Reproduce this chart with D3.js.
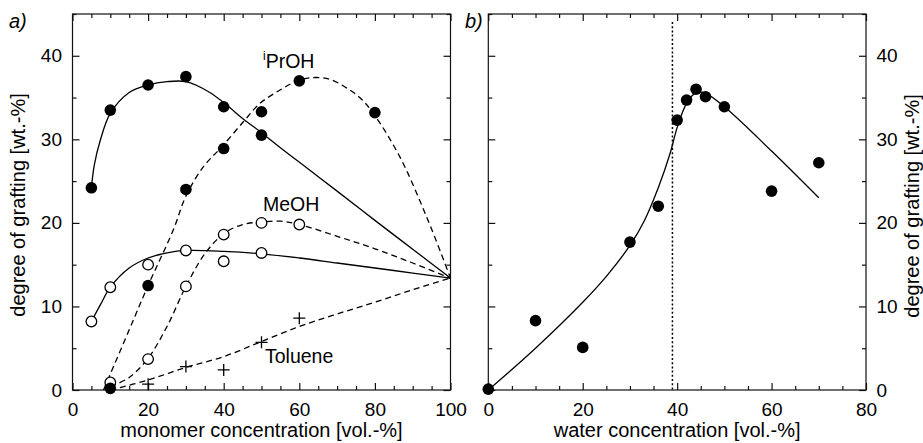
<!DOCTYPE html>
<html>
<head>
<meta charset="utf-8">
<script src="https://cdn.jsdelivr.net/npm/d3@7"></script>
<style>
  body { margin: 0; background: #fff; }
  svg { font-family: "Liberation Sans", Arial, Helvetica, sans-serif; }
  .axis text { font-size: 19px; fill: #000; }
  .axis line { stroke: #111; stroke-width: 1.2; }
  .axisLabel { font-size: 20px; fill: #000; text-anchor: middle; }
</style>
</head>
<body>
<div id="chart"></div>
<script>
// ---- panel a) measured points
const iprSolidX = [5, 10, 20, 30, 40, 50];
const iprSolidY = [24.2, 33.5, 36.5, 37.5, 33.9, 30.5];
const iprDashX = [10, 20, 30, 40, 50, 60, 80];
const iprDashY = [0.2, 12.5, 24, 28.9, 33.3, 37, 33.2];
const meohSolidX = [5, 10, 20, 30, 40, 50];
const meohSolidY = [8.2, 12.3, 15, 16.7, 15.4, 16.4];
const meohDashX = [10, 20, 30, 40, 50, 60];
const meohDashY = [0.9, 3.7, 12.4, 18.6, 20, 19.8];
const tolX = [20, 30, 40, 50, 60];
const tolY = [0.7, 2.8, 2.4, 5.7, 8.6];

// ---- panel a) fitted curves (read off the figure)
const iprSolidFit = [[5,24.2],[5.8,27],[7.3,29.8],[10,33.1],[15,35.6],[20,36.5],[25,36.9],[30,36.9],[36,35.7],[40.8,34.1],[45,32.5],[50,30.8],[55,29.0],[62.8,26.3],[70,23.8],[80,20.3],[90,16.85],[100,13.4]];
const iprDashFit = [[8.2,0],[15,7.2],[20,12.5],[26.7,19.2],[30,23.2],[34.6,26.7],[39.5,29.1],[45.2,32.1],[49.6,34.3],[54.9,35.9],[60,37.1],[64.2,37.4],[68,37.2],[72,36.3],[76,35],[79.6,33.1],[86.6,27.9],[93.7,20.7],[100,13.4]];
const meohSolidFit = [[5,8.2],[7.5,10.3],[10,12.3],[15,14.6],[20,15.8],[25,16.4],[30,16.7],[40,16.6],[50,16.3],[60,15.8],[70,15.2],[80,14.6],[90,14],[100,13.4]];
const meohDashFit = [[10,0.4],[15,1.5],[20,3.8],[25,7.6],[30,12.4],[35,16.3],[40,18.7],[45,19.8],[50,20.1],[55,20.2],[60,19.8],[70,18.4],[80,16.9],[90,15.2],[100,13.4]];
const tolFit = [[10,0],[20,1.2],[30,2.7],[40,4.0],[50,5.8],[60,7.6],[70,9.1],[80,10.5],[90,12],[100,13.4]];

// ---- panel b)
const waterX = [0, 10, 20, 30, 36, 40, 42, 44, 46, 50, 60, 70];
const waterY = [0.1, 8.3, 5.1, 17.7, 22, 32.3, 34.7, 36, 35.1, 33.9, 23.8, 27.2];
const waterFit = [[0,0],[10,5],[20,10.5],[25,13.6],[30,17.3],[33,20.2],[36,24.2],[38.5,28.3],[40,31.4],[42,34.3],[44,35.6],[46,35.5],[50,33.9],[60,28.6],[70,23]];
const criticalWater = 39;

// ticks
const xTicksA = [0, 20, 40, 60, 80, 100];
const xTicksB = [0, 20, 40, 60, 80];
const yTicks = [0, 10, 20, 30, 40];

const width = 923, height = 443;
const svg = d3.select("#chart").append("svg")
    .attr("width", width)
    .attr("height", height);

const plotTop = 14, plotBottom = 390;
const yScale = d3.scaleLinear().domain([0, 45]).range([plotBottom, plotTop]);
const xA = d3.scaleLinear().domain([0, 100]).range([72.5, 450.5]);
const xB = d3.scaleLinear().domain([0, 80]).range([488.3, 866]);

function minorVals(max, step, skip) {
    const v = [];
    for (let i = 0; i <= max; i += step) if (i % skip !== 0) v.push(i);
    return v;
}

function frame(x, labelLeft, labelRight) {
    const [x0, x1] = x.range();
    const xmax = x.domain()[1];
    const xMajor = xmax === 100 ? xTicksA : xTicksB;
    const xMinor = minorVals(xmax, 5, 20);
    const yMinor = minorVals(45, 5, 10);

    // bottom
    svg.append("g").attr("class", "axis")
        .attr("transform", `translate(0,${plotBottom})`)
        .call(d3.axisBottom(x).tickValues(xMajor).tickSize(-7).tickSizeOuter(0).tickPadding(13).tickFormat(d3.format("d")))
        .call(g => g.select(".domain").remove());
    svg.append("g").attr("class", "axis")
        .attr("transform", `translate(0,${plotBottom})`)
        .call(d3.axisBottom(x).tickValues(xMinor).tickSize(-4).tickFormat(""))
        .call(g => g.select(".domain").remove());
    // top
    svg.append("g").attr("class", "axis")
        .attr("transform", `translate(0,${plotTop})`)
        .call(d3.axisTop(x).tickValues(xMajor).tickSize(-7).tickFormat(""))
        .call(g => g.select(".domain").remove());
    svg.append("g").attr("class", "axis")
        .attr("transform", `translate(0,${plotTop})`)
        .call(d3.axisTop(x).tickValues(xMinor).tickSize(-4).tickFormat(""))
        .call(g => g.select(".domain").remove());
    // left
    svg.append("g").attr("class", "axis")
        .attr("transform", `translate(${x0},0)`)
        .call(d3.axisLeft(yScale).tickValues(yTicks).tickSize(-7).tickPadding(10.5).tickFormat(labelLeft ? d3.format("d") : ""))
        .call(g => g.select(".domain").remove());
    svg.append("g").attr("class", "axis")
        .attr("transform", `translate(${x0},0)`)
        .call(d3.axisLeft(yScale).tickValues(yMinor).tickSize(-4).tickFormat(""))
        .call(g => g.select(".domain").remove());
    // right
    svg.append("g").attr("class", "axis")
        .attr("transform", `translate(${x1},0)`)
        .call(d3.axisRight(yScale).tickValues(yTicks).tickSize(-7).tickPadding(10.5).tickFormat(labelRight ? d3.format("d") : ""))
        .call(g => g.select(".domain").remove());
    svg.append("g").attr("class", "axis")
        .attr("transform", `translate(${x1},0)`)
        .call(d3.axisRight(yScale).tickValues(yMinor).tickSize(-4).tickFormat(""))
        .call(g => g.select(".domain").remove());

    svg.append("rect")
        .attr("x", x0).attr("y", plotTop)
        .attr("width", x1 - x0).attr("height", plotBottom - plotTop)
        .attr("fill", "none")
        .attr("stroke", "#111")
        .attr("stroke-width", 1.2);
}

frame(xA, true, false);
frame(xB, false, true);

// curves
function curve(x, pts, dash) {
    const line = d3.line()
        .x(d => x(d[0]))
        .y(d => yScale(d[1]))
        .curve(d3.curveCatmullRom.alpha(0.5));
    svg.append("path")
        .datum(pts)
        .attr("d", line)
        .attr("fill", "none")
        .attr("stroke", "#000")
        .attr("stroke-width", 1.3)
        .attr("stroke-dasharray", dash ? "6,4" : null);
}

curve(xA, iprSolidFit, false);
curve(xA, iprDashFit, true);
curve(xA, meohSolidFit, false);
curve(xA, meohDashFit, true);
curve(xA, tolFit, true);
curve(xB, waterFit, false);

// dotted vertical line
svg.append("line")
    .attr("x1", xB(criticalWater)).attr("x2", xB(criticalWater))
    .attr("y1", plotTop + 8).attr("y2", plotBottom)
    .attr("stroke", "#000")
    .attr("stroke-width", 1.5)
    .attr("stroke-dasharray", "2,2.2");

// markers
function dots(x, xs, ys, filled) {
    svg.append("g").selectAll("circle")
        .data(xs.map((d, i) => [d, ys[i]]))
        .enter()
        .append("circle")
            .attr("cx", d => x(d[0]))
            .attr("cy", d => yScale(d[1]))
            .attr("r", filled ? 5.8 : 5.3)
            .attr("fill", filled ? "#000" : "#fff")
            .attr("stroke", "#000")
            .attr("stroke-width", filled ? 0 : 1.3);
}

dots(xA, meohSolidX, meohSolidY, false);
dots(xA, meohDashX, meohDashY, false);
dots(xA, iprSolidX, iprSolidY, true);
dots(xA, iprDashX, iprDashY, true);
dots(xB, waterX, waterY, true);

svg.append("g").selectAll("path")
    .data(tolX.map((d, i) => [d, tolY[i]]))
    .enter()
    .append("path")
        .attr("transform", d => `translate(${xA(d[0])},${yScale(d[1])})`)
        .attr("d", "M-6,0H6M0,-6V6")
        .attr("stroke", "#000")
        .attr("stroke-width", 1.3);

// in-plot labels
const ipr = svg.append("text").attr("x", 263).attr("y", 68).style("font-size", "19.5px");
ipr.append("tspan").text("i").style("font-size", "12px").attr("dy", -8);
ipr.append("tspan").text("PrOH").attr("dy", 8);
svg.append("text").attr("x", 263).attr("y", 211).style("font-size", "19.5px").text("MeOH");
svg.append("text").attr("x", 265).attr("y", 363).style("font-size", "19.5px").text("Toluene");

// panel letters
svg.append("text").attr("x", 9).attr("y", 28).style("font-size", "20px").style("font-style", "italic").text("a)");
svg.append("text").attr("x", 465).attr("y", 28).style("font-size", "20px").style("font-style", "italic").text("b)");

// axis labels
svg.append("text").attr("class", "axisLabel")
    .attr("x", (xA.range()[0] + xA.range()[1]) / 2).attr("y", 437)
    .text("monomer concentration [vol.-%]");
svg.append("text").attr("class", "axisLabel")
    .attr("x", (xB.range()[0] + xB.range()[1]) / 2).attr("y", 437)
    .text("water concentration [vol.-%]");
svg.append("text").attr("class", "axisLabel")
    .attr("transform", "rotate(-90)")
    .attr("x", -205).attr("y", 25)
    .text("degree of grafting [wt.-%]");
svg.append("text").attr("class", "axisLabel")
    .attr("transform", "rotate(-90)")
    .attr("x", -206).attr("y", 919)
    .text("degree of grafting [wt.-%]");
</script>
</body>
</html>
